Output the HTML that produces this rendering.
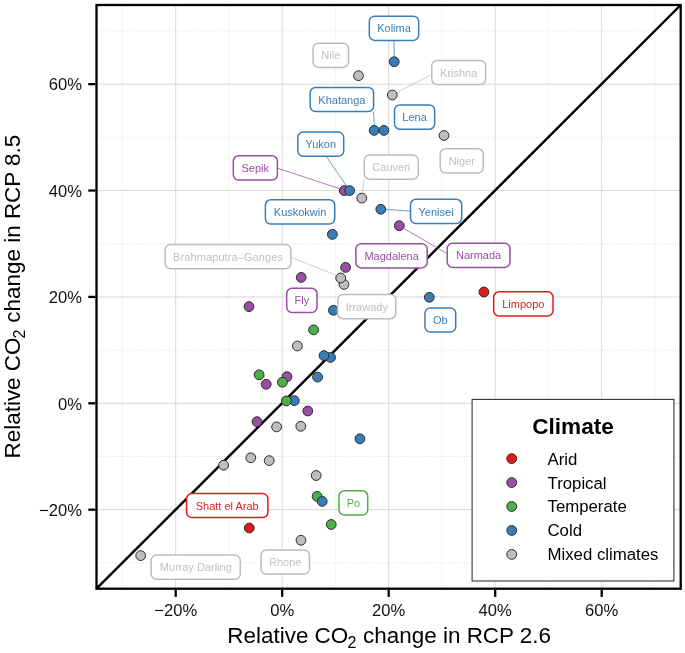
<!DOCTYPE html>
<html><head><meta charset="utf-8"><title>chart</title>
<style>html,body{margin:0;padding:0;background:#fff;}body{width:685px;height:653px;overflow:hidden;}svg{display:block;font-family:"Liberation Sans",sans-serif;}</style>
</head><body>
<svg width="685" height="653" viewBox="0 0 685 653" style="opacity:0.999">
<rect x="0" y="0" width="685" height="653" fill="#ffffff"/>
<g stroke="#e2e2e2" stroke-width="0.9" stroke-dasharray="0.9 1.3" fill="none">
<line x1="122.45" y1="5.0" x2="122.45" y2="588.7"/>
<line x1="96.5" y1="562.87" x2="680.7" y2="562.87"/>
<line x1="228.95" y1="5.0" x2="228.95" y2="588.7"/>
<line x1="96.5" y1="456.49" x2="680.7" y2="456.49"/>
<line x1="335.45" y1="5.0" x2="335.45" y2="588.7"/>
<line x1="96.5" y1="350.11" x2="680.7" y2="350.11"/>
<line x1="441.95" y1="5.0" x2="441.95" y2="588.7"/>
<line x1="96.5" y1="243.73" x2="680.7" y2="243.73"/>
<line x1="548.45" y1="5.0" x2="548.45" y2="588.7"/>
<line x1="96.5" y1="137.35" x2="680.7" y2="137.35"/>
<line x1="654.95" y1="5.0" x2="654.95" y2="588.7"/>
<line x1="96.5" y1="30.97" x2="680.7" y2="30.97"/>
</g>
<g stroke="#d8d8d8" stroke-width="1" fill="none">
<line x1="175.70" y1="5.0" x2="175.70" y2="588.7"/>
<line x1="96.5" y1="509.68" x2="680.7" y2="509.68"/>
<line x1="282.20" y1="5.0" x2="282.20" y2="588.7"/>
<line x1="96.5" y1="403.30" x2="680.7" y2="403.30"/>
<line x1="388.70" y1="5.0" x2="388.70" y2="588.7"/>
<line x1="96.5" y1="296.92" x2="680.7" y2="296.92"/>
<line x1="495.20" y1="5.0" x2="495.20" y2="588.7"/>
<line x1="96.5" y1="190.54" x2="680.7" y2="190.54"/>
<line x1="601.70" y1="5.0" x2="601.70" y2="588.7"/>
<line x1="96.5" y1="84.16" x2="680.7" y2="84.16"/>
</g>
<line x1="96.5" y1="588.7" x2="680.7" y2="5.0" stroke="#000" stroke-width="2.45"/>
<g stroke="#2b2b2b" stroke-width="1">
<circle cx="330.5" cy="357.4" r="4.9" fill="#377EB8"/>
<circle cx="324" cy="355.6" r="4.9" fill="#377EB8"/>
<circle cx="344" cy="284.4" r="4.9" fill="#BEBEBE"/>
<circle cx="340.7" cy="278.0" r="4.9" fill="#BEBEBE"/>
<circle cx="344.2" cy="190.6" r="4.9" fill="#984EA3"/>
<circle cx="349.6" cy="190.6" r="4.9" fill="#377EB8"/>
<circle cx="374.2" cy="130.4" r="4.9" fill="#377EB8"/>
<circle cx="383.9" cy="130.4" r="4.9" fill="#377EB8"/>
<circle cx="394.2" cy="61.7" r="4.9" fill="#377EB8"/>
<circle cx="380.8" cy="209.3" r="4.9" fill="#377EB8"/>
<circle cx="332.4" cy="234.4" r="4.9" fill="#377EB8"/>
<circle cx="333.4" cy="310.3" r="4.9" fill="#377EB8"/>
<circle cx="429.3" cy="297.3" r="4.9" fill="#377EB8"/>
<circle cx="317.6" cy="377.1" r="4.9" fill="#377EB8"/>
<circle cx="294.3" cy="400.6" r="4.9" fill="#377EB8"/>
<circle cx="359.9" cy="438.8" r="4.9" fill="#377EB8"/>
<circle cx="358.5" cy="75.7" r="4.9" fill="#BEBEBE"/>
<circle cx="392.3" cy="95.0" r="4.9" fill="#BEBEBE"/>
<circle cx="444" cy="135.5" r="4.9" fill="#BEBEBE"/>
<circle cx="361.8" cy="198.1" r="4.9" fill="#BEBEBE"/>
<circle cx="297.4" cy="346.0" r="4.9" fill="#BEBEBE"/>
<circle cx="276.6" cy="426.9" r="4.9" fill="#BEBEBE"/>
<circle cx="300.8" cy="426.3" r="4.9" fill="#BEBEBE"/>
<circle cx="250.8" cy="457.8" r="4.9" fill="#BEBEBE"/>
<circle cx="269.2" cy="460.6" r="4.9" fill="#BEBEBE"/>
<circle cx="223.6" cy="465.2" r="4.9" fill="#BEBEBE"/>
<circle cx="316.2" cy="475.5" r="4.9" fill="#BEBEBE"/>
<circle cx="301" cy="540.3" r="4.9" fill="#BEBEBE"/>
<circle cx="140.7" cy="555.6" r="4.9" fill="#BEBEBE"/>
<circle cx="399.3" cy="225.7" r="4.9" fill="#984EA3"/>
<circle cx="345.6" cy="267.4" r="4.9" fill="#984EA3"/>
<circle cx="301.2" cy="277.4" r="4.9" fill="#984EA3"/>
<circle cx="249" cy="306.6" r="4.9" fill="#984EA3"/>
<circle cx="287" cy="376.7" r="4.9" fill="#984EA3"/>
<circle cx="266.2" cy="384.3" r="4.9" fill="#984EA3"/>
<circle cx="307.8" cy="411.0" r="4.9" fill="#984EA3"/>
<circle cx="257" cy="421.7" r="4.9" fill="#984EA3"/>
<circle cx="313.6" cy="329.9" r="4.9" fill="#4DAF4A"/>
<circle cx="259.1" cy="374.8" r="4.9" fill="#4DAF4A"/>
<circle cx="282.4" cy="382.2" r="4.9" fill="#4DAF4A"/>
<circle cx="286.4" cy="400.9" r="4.9" fill="#4DAF4A"/>
<circle cx="317.1" cy="496.4" r="4.9" fill="#4DAF4A"/>
<circle cx="322.2" cy="501.4" r="4.9" fill="#377EB8"/>
<circle cx="331.2" cy="524.5" r="4.9" fill="#4DAF4A"/>
<circle cx="483.9" cy="292.0" r="4.9" fill="#E41A1C"/>
<circle cx="249.3" cy="528.0" r="4.9" fill="#E41A1C"/>
</g>
<g stroke-width="0.75" fill="none">
<line x1="394.0" y1="40.5" x2="394.2" y2="56" stroke="#377EB8"/>
<line x1="431.5" y1="74.6" x2="397.0" y2="92.4" stroke="#BDBDBD"/>
<line x1="373.5" y1="111.6" x2="374.4" y2="125.4" stroke="#377EB8"/>
<line x1="326.2" y1="156.3" x2="346.8" y2="186.3" stroke="#377EB8"/>
<line x1="364" y1="178.8" x2="362.2" y2="193" stroke="#BDBDBD"/>
<line x1="277.7" y1="168.2" x2="339.6" y2="188.7" stroke="#984EA3"/>
<line x1="410.2" y1="211.2" x2="385.6" y2="209.3" stroke="#377EB8"/>
<line x1="291.2" y1="257.3" x2="336.4" y2="275.4" stroke="#BDBDBD"/>
<line x1="447.6" y1="253.9" x2="403.2" y2="228.1" stroke="#984EA3"/>
</g>
<g font-size="11px" text-anchor="middle" style="filter:blur(0.25px)">
<rect x="369.3" y="16.2" width="49.4" height="24.2" rx="5.4" ry="5.4" fill="#fff" stroke="#377EB8" stroke-width="1.5"/>
<text x="394.0" y="32.3" fill="#377EB8">Kolima</text>
<rect x="313.1" y="43.2" width="35.4" height="24.2" rx="5.4" ry="5.4" fill="#fff" stroke="#BDBDBD" stroke-width="1.5"/>
<text x="330.8" y="59.3" fill="#C0C0C0">Nile</text>
<rect x="431.8" y="60.4" width="53.8" height="24.2" rx="5.4" ry="5.4" fill="#fff" stroke="#BDBDBD" stroke-width="1.5"/>
<text x="458.7" y="76.6" fill="#C0C0C0">Krishna</text>
<rect x="310.2" y="87.4" width="63.4" height="24.2" rx="5.4" ry="5.4" fill="#fff" stroke="#377EB8" stroke-width="1.5"/>
<text x="341.9" y="103.6" fill="#377EB8">Khatanga</text>
<rect x="394.5" y="105.0" width="40.2" height="24.2" rx="5.4" ry="5.4" fill="#fff" stroke="#377EB8" stroke-width="1.5"/>
<text x="414.6" y="121.2" fill="#377EB8">Lena</text>
<rect x="440.2" y="148.8" width="43.1" height="24.2" rx="5.4" ry="5.4" fill="#fff" stroke="#BDBDBD" stroke-width="1.5"/>
<text x="461.8" y="165.0" fill="#C0C0C0">Niger</text>
<rect x="297.8" y="132.1" width="45.9" height="24.2" rx="5.4" ry="5.4" fill="#fff" stroke="#377EB8" stroke-width="1.5"/>
<text x="320.8" y="148.2" fill="#377EB8">Yukon</text>
<rect x="364.3" y="155.0" width="54.0" height="24.2" rx="5.4" ry="5.4" fill="#fff" stroke="#BDBDBD" stroke-width="1.5"/>
<text x="391.3" y="171.2" fill="#C0C0C0">Cauveri</text>
<rect x="233.3" y="155.8" width="44.1" height="24.2" rx="5.4" ry="5.4" fill="#fff" stroke="#984EA3" stroke-width="1.5"/>
<text x="255.3" y="171.9" fill="#984EA3">Sepik</text>
<rect x="265.4" y="199.8" width="69.3" height="24.2" rx="5.4" ry="5.4" fill="#fff" stroke="#377EB8" stroke-width="1.5"/>
<text x="300.1" y="216.0" fill="#377EB8">Kuskokwin</text>
<rect x="410.5" y="199.3" width="51.2" height="24.2" rx="5.4" ry="5.4" fill="#fff" stroke="#377EB8" stroke-width="1.5"/>
<text x="436.1" y="215.5" fill="#377EB8">Yenisei</text>
<rect x="165.1" y="244.5" width="125.8" height="24.2" rx="5.4" ry="5.4" fill="#fff" stroke="#BDBDBD" stroke-width="1.5"/>
<text x="228.0" y="260.7" fill="#C0C0C0" textLength="109.8">Brahmaputra–Ganges</text>
<rect x="355.9" y="243.7" width="71.3" height="24.2" rx="5.4" ry="5.4" fill="#fff" stroke="#984EA3" stroke-width="1.5"/>
<text x="391.6" y="259.9" fill="#984EA3">Magdalena</text>
<rect x="447.2" y="243.2" width="62.8" height="24.2" rx="5.4" ry="5.4" fill="#fff" stroke="#984EA3" stroke-width="1.5"/>
<text x="478.6" y="259.4" fill="#984EA3">Narmada</text>
<rect x="286.7" y="288.3" width="30.3" height="24.2" rx="5.4" ry="5.4" fill="#fff" stroke="#984EA3" stroke-width="1.5"/>
<text x="301.9" y="304.4" fill="#984EA3">Fly</text>
<rect x="337.7" y="294.5" width="58.1" height="24.2" rx="5.4" ry="5.4" fill="#fff" stroke="#BDBDBD" stroke-width="1.5"/>
<text x="366.8" y="310.7" fill="#C0C0C0">Irrawady</text>
<rect x="425.0" y="307.9" width="30.7" height="24.2" rx="5.4" ry="5.4" fill="#fff" stroke="#377EB8" stroke-width="1.5"/>
<text x="440.4" y="324.0" fill="#377EB8">Ob</text>
<rect x="493.7" y="291.8" width="59.3" height="24.2" rx="5.4" ry="5.4" fill="#fff" stroke="#E41A1C" stroke-width="1.5"/>
<text x="523.3" y="307.9" fill="#E41A1C">Limpopo</text>
<rect x="186.6" y="493.4" width="81.3" height="24.2" rx="5.4" ry="5.4" fill="#fff" stroke="#E41A1C" stroke-width="1.5"/>
<text x="227.2" y="509.5" fill="#E41A1C">Shatt el Arab</text>
<rect x="339.0" y="490.8" width="28.7" height="24.2" rx="5.4" ry="5.4" fill="#fff" stroke="#4DAF4A" stroke-width="1.5"/>
<text x="353.4" y="506.9" fill="#4DAF4A">Po</text>
<rect x="151.1" y="555.1" width="89.2" height="24.2" rx="5.4" ry="5.4" fill="#fff" stroke="#BDBDBD" stroke-width="1.5"/>
<text x="195.7" y="571.3" fill="#C0C0C0">Murray Darling</text>
<rect x="261.0" y="549.9" width="48.5" height="24.2" rx="5.4" ry="5.4" fill="#fff" stroke="#BDBDBD" stroke-width="1.5"/>
<text x="285.2" y="566.0" fill="#C0C0C0">Rhone</text>
</g>
<rect x="472.1" y="399.4" width="201.8" height="181.6" fill="#fff" stroke="#222" stroke-width="1"/>
<text x="573" y="433.8" font-size="22.6px" font-weight="bold" text-anchor="middle" fill="#000">Climate</text>
<circle cx="511.7" cy="458.60" r="4.9" fill="#E41A1C" stroke="#2b2b2b" stroke-width="1"/>
<text x="547.5" y="464.55" font-size="16.8px" fill="#000">Arid</text>
<circle cx="511.7" cy="482.55" r="4.9" fill="#984EA3" stroke="#2b2b2b" stroke-width="1"/>
<text x="547.5" y="488.50" font-size="16.8px" fill="#000">Tropical</text>
<circle cx="511.7" cy="506.50" r="4.9" fill="#4DAF4A" stroke="#2b2b2b" stroke-width="1"/>
<text x="547.5" y="512.45" font-size="16.8px" fill="#000">Temperate</text>
<circle cx="511.7" cy="530.45" r="4.9" fill="#377EB8" stroke="#2b2b2b" stroke-width="1"/>
<text x="547.5" y="536.40" font-size="16.8px" fill="#000">Cold</text>
<circle cx="511.7" cy="554.40" r="4.9" fill="#BEBEBE" stroke="#2b2b2b" stroke-width="1"/>
<text x="547.5" y="560.35" font-size="16.8px" fill="#000">Mixed climates</text>
<rect x="96.5" y="5.0" width="584.2" height="583.7" fill="none" stroke="#000" stroke-width="2.3"/>
<g stroke="#000" stroke-width="2.3">
<line x1="175.70" y1="589.8000000000001" x2="175.70" y2="596.9000000000001"/>
<line x1="95.4" y1="509.68" x2="88.3" y2="509.68"/>
<line x1="282.20" y1="589.8000000000001" x2="282.20" y2="596.9000000000001"/>
<line x1="95.4" y1="403.30" x2="88.3" y2="403.30"/>
<line x1="388.70" y1="589.8000000000001" x2="388.70" y2="596.9000000000001"/>
<line x1="95.4" y1="296.92" x2="88.3" y2="296.92"/>
<line x1="495.20" y1="589.8000000000001" x2="495.20" y2="596.9000000000001"/>
<line x1="95.4" y1="190.54" x2="88.3" y2="190.54"/>
<line x1="601.70" y1="589.8000000000001" x2="601.70" y2="596.9000000000001"/>
<line x1="95.4" y1="84.16" x2="88.3" y2="84.16"/>
</g>
<g font-size="16.6px" fill="#111">
<text x="175.70" y="615.6" text-anchor="middle">−20%</text>
<text x="82" y="515.88" text-anchor="end">−20%</text>
<text x="282.20" y="615.6" text-anchor="middle">0%</text>
<text x="82" y="409.50" text-anchor="end">0%</text>
<text x="388.70" y="615.6" text-anchor="middle">20%</text>
<text x="82" y="303.12" text-anchor="end">20%</text>
<text x="495.20" y="615.6" text-anchor="middle">40%</text>
<text x="82" y="196.74" text-anchor="end">40%</text>
<text x="601.70" y="615.6" text-anchor="middle">60%</text>
<text x="82" y="90.36" text-anchor="end">60%</text>
</g>
<text x="389.2" y="642.7" font-size="22.45px" text-anchor="middle" fill="#000">Relative CO<tspan font-size="16px" dy="5.1" dx="-0.9">2</tspan><tspan dy="-5.1" dx="0.6"> change in RCP 2.6</tspan></text>
<text transform="translate(20.0,296.6) rotate(-90)" font-size="22.45px" text-anchor="middle" fill="#000">Relative CO<tspan font-size="16px" dy="5.1" dx="-0.9">2</tspan><tspan dy="-5.1" dx="0.6"> change in RCP 8.5</tspan></text>
</svg></body></html>
